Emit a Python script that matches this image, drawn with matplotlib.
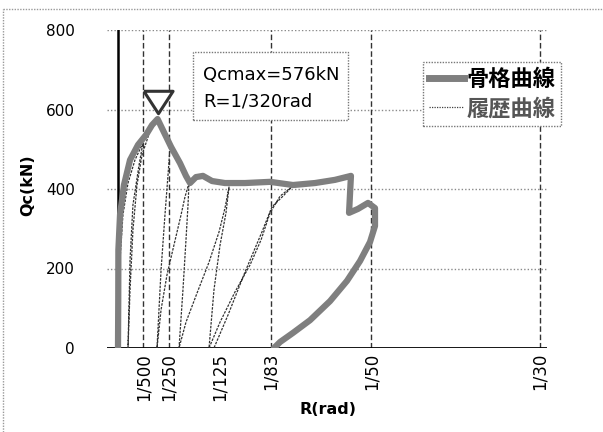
import numpy as np
import matplotlib
matplotlib.use('Agg')
import matplotlib.pyplot as plt
from matplotlib.lines import Line2D
from matplotlib.patches import Rectangle

plt.rcParams['font.family'] = ['DejaVu Sans', 'Noto Sans CJK JP']

# ---- data: 骨格曲線 (skeleton) ----
skel_R = [0.0, 0.00002, 0.00003, 0.00016, 0.00047, 0.00095, 0.00158, 0.00221, 0.00269,
          0.003125, 0.00355, 0.00419, 0.00490, 0.00537, 0.00569, 0.00616, 0.00671, 0.00743,
          0.00845, 0.01003, 0.01201, 0.01382, 0.01556, 0.01714, 0.01840, 0.01825, 0.01896,
          0.01975, 0.02030, 0.02030, 0.01991, 0.01912, 0.01809, 0.01675, 0.01517, 0.01382,
          0.01280, 0.01232]
skel_Q = [0, 121, 247, 335, 410, 473, 511, 536, 561,
          576, 548, 506, 465, 433, 415, 430, 433, 420,
          415, 415, 418, 410, 415, 423, 433, 340, 350,
          365, 352, 307, 267, 219, 169, 118, 70, 38,
          15, 0]

# ---- data: 履歴曲線 (hysteresis loops) ----
hyst_R = [0.0, 0.00016, 0.00039, 0.00079, 0.00134, 0.00197,
          0.00166, 0.00118, 0.00095, 0.00079,
          0.00095, 0.00118, 0.00150, 0.00190, 0.00253, 0.00308, 0.00363, 0.00411,
          0.00395, 0.00371, 0.00340, 0.00308,
          0.00340, 0.00387, 0.00442, 0.00498, 0.00529, 0.00561,
          0.00553, 0.00537, 0.00513, 0.00482,
          0.00537, 0.00624, 0.00719, 0.00798, 0.00845, 0.00877,
          0.00853, 0.00806, 0.00758, 0.00719,
          0.00806, 0.00924, 0.01043, 0.01130, 0.01201, 0.01280, 0.01382,
          0.01303, 0.01216, 0.01137, 0.01003, 0.00869, 0.00758]
hyst_Q = [0, 221, 335, 415, 473, 516,
          460, 360, 221, 0,
          146, 297, 410, 486, 546, 571, 541, 506,
          435, 335, 196, 0,
          96, 184, 259, 335, 380, 415,
          360, 272, 146, 0,
          65, 138, 216, 292, 352, 405,
          340, 259, 146, 0,
          65, 141, 209, 272, 340, 382, 408,
          382, 355, 292, 191, 83, 0]

peak_R = 1 / 320
peak_Q = 576

tick_R = [1/500, 1/250, 1/125, 1/83, 1/50, 1/30]
tick_lbl = ['1/500', '1/250', '1/125', '1/83', '1/50', '1/30']
guide_R = [1/500, 1/250, 1/83, 1/50, 1/30]
y_ticks = [0, 200, 400, 600, 800]

W, H = 603, 432
fig = plt.figure(figsize=(W / 100, H / 100), dpi=100)
ax = fig.add_axes([107 / W, 84 / H, 440 / W, 318 / H])

ax.set_xlim(-0.000869, 0.033886)
ax.set_ylim(0, 800)
for s in ax.spines.values():
    s.set_visible(False)

# grid + guide lines
for yv in y_ticks[1:]:
    ax.axhline(yv, color='#8a8a8a', lw=1, ls=(0, (1, 1.5)), zorder=1)
ax.vlines(guide_R, 0, 800, colors='#333333', lw=1, linestyles=(0, (4, 2)), zorder=1)
ax.axhline(0, color='black', lw=2, zorder=2)
ax.axvline(0, color='black', lw=1.8, zorder=2)

# curves
ax.plot(hyst_R, hyst_Q, color='#333333', lw=0.9, ls=(0, (2, 1)), zorder=3, label='履歴曲線')
ax.plot(skel_R, skel_Q, color='#7f7f7f', lw=4.5, solid_joinstyle='round',
        solid_capstyle='round', zorder=4, label='骨格曲線')

tri = [(-1.3, 1), (1.3, 1), (0, -1), (-1.3, 1)]
ax.plot([peak_R], [620], marker=tri, ms=21, mfc='white', mec='#333333', mew=2.2,
        ls='none', zorder=5)

ax.set_xticks(tick_R)
ax.set_xticklabels(tick_lbl, rotation=90, fontsize=12)
ax.set_yticks(y_ticks)
ax.set_yticklabels([str(v) for v in y_ticks], fontsize=11)
ax.tick_params(axis='x', length=0, pad=3.6)
ax.tick_params(axis='y', length=0, pad=23)

fig.text(28 / W, 1 - 185 / H, 'Qc(kN)', rotation=90, ha='center', va='center',
         fontsize=11.5, fontweight='bold')
fig.text(328 / W, 1 - 410 / H, 'R(rad)', ha='center', va='center',
         fontsize=11.5, fontweight='bold')

# annotation box
fig.add_artist(Rectangle((193 / W, 1 - 120 / H), 155 / W, 68 / H, transform=fig.transFigure,
                         facecolor='white', edgecolor='#777777', lw=1, ls=(0, (1, 1)), zorder=2))
fig.text(203 / W, 1 - 80 / H, 'Qcmax=576kN', fontsize=13, va='baseline', zorder=3)
fig.text(203 / W, 1 - 107 / H, 'R=1/320rad', fontsize=13, va='baseline', zorder=3)

# legend
h_sk = Line2D([], [], color='#7f7f7f', lw=5)
h_hy = Line2D([], [], color='#404040', lw=0.9, ls=(0, (1, 1)))
leg = ax.legend([h_sk, h_hy], ['骨格曲線', '履歴曲線'], loc='upper left',
                bbox_to_anchor=(423 / W, 1 - 62 / H), bbox_transform=fig.transFigure,
                prop={'family': 'Noto Sans CJK JP', 'weight': 'bold', 'size': 16},
                handlelength=1.6, handletextpad=0.1, labelspacing=0.3,
                borderpad=0.25, borderaxespad=0, fancybox=False, framealpha=1)
leg.get_frame().set_edgecolor('#777777')
leg.get_frame().set_linestyle((0, (1, 1)))
leg.get_frame().set_linewidth(1)
leg.get_texts()[1].set_color('#555555')

# chart area border
fig.add_artist(Line2D([3 / W, 3 / W], [0, 1 - 9 / H], transform=fig.transFigure,
                      color='#999999', lw=1, ls=(0, (1, 1))))
fig.add_artist(Line2D([3 / W, 1], [1 - 9 / H, 1 - 9 / H], transform=fig.transFigure,
                      color='#999999', lw=1, ls=(0, (1, 1))))

fig.savefig('out.png', dpi=100)
